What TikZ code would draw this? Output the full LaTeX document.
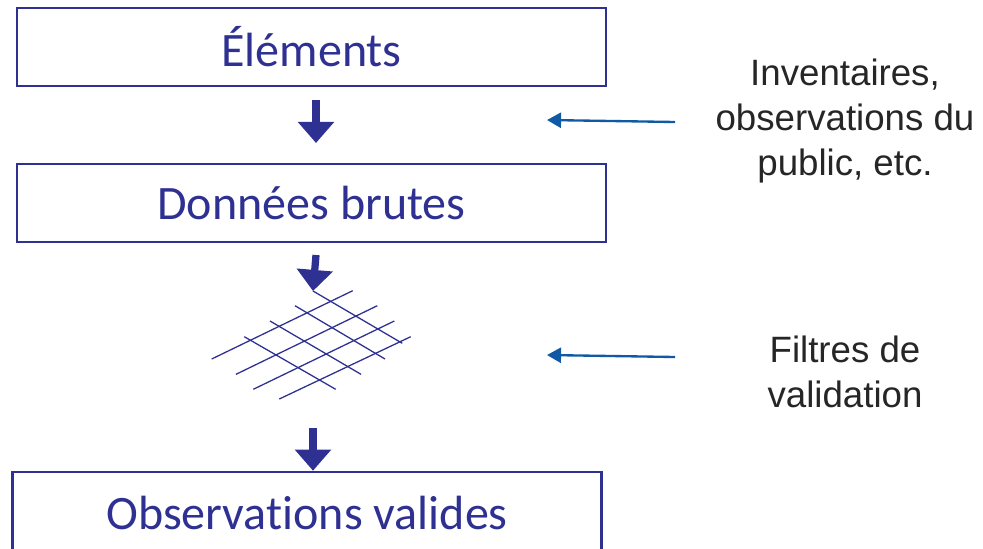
\documentclass[tikz,border=0pt]{standalone}
\usepackage{fontspec}
\setmainfont[RawFeature=-liga]{Carlito}
\newfontfamily\arialfont{Liberation Sans}
\usepackage{xcolor}
\usetikzlibrary{arrows.meta}
\definecolor{navy}{RGB}{46,49,146}
\definecolor{lienbleu}{RGB}{16,90,165}

\begin{document}
\begin{tikzpicture}[x=0.03cm, y=-0.03cm,
  etape/.style={rectangle, draw=navy, line width=2.2pt, text=navy, minimum width=17.67cm, minimum height=2.34cm, inner sep=0pt, font=\fontsize{41}{48}\selectfont},
  fleche/.style={draw=navy, line width=6.2pt, -{Triangle[width=30pt, length=18pt]}, navy},
  source/.style={align=center, font=\arialfont\fontsize{31.3}{38.4}\selectfont, text=black!85},
  lien/.style={draw=lienbleu, line width=2pt, -{Triangle[width=13pt, length=12pt]}},
  maille/.style={navy, line width=1.1pt}]
\useasboundingbox (0,0) rectangle (983,548);
\node[etape] (elem) at (311.5,47) {Éléments};
\node[etape] (brutes) at (311.5,203) {Données brutes};
\node[etape, minimum height=2.46cm] (valides) at (307,513) {Observations valides};
\coordinate (filtre) at (313,291);
% grille du filtre
\draw[maille] (211.7,359) -- (352.7,290.7);
\draw[maille] (236,374.3) -- (377.3,305.7);
\draw[maille] (253.3,389.3) -- (394.3,321);
\draw[maille] (279.3,399) -- (410.7,336.7);
\draw[maille] (filtre) -- (402.3,343.3);
\draw[maille] (295,305.7) -- (385,359);
\draw[maille] (270,321) -- (361,374.3);
\draw[maille] (244.3,336.7) -- (335.7,389.3);
% fleches principales
\draw[fleche] (316,100) -- (316,143);
\draw[fleche] (316,255) -- (filtre);
\draw[fleche] (313,428) -- (valides.north -| 313,0);
% textes de droite
\node[source] (inv) at (845,121) {Inventaires,\\observations du\\public, etc.};
\node[source] (filt) at (845,371.5) {Filtres de\\validation};
\coordinate (a1) at (675,122);
\coordinate (a2) at (675,357);
\draw[lien] (a1) -- (547,120);
\draw[lien] (a2) -- (547,355);
\end{tikzpicture}
\end{document}
